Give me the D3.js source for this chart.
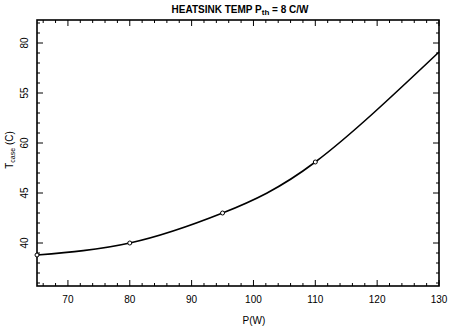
<!DOCTYPE html>
<html>
<head>
<meta charset="utf-8">
<script src="https://cdn.jsdelivr.net/npm/d3@7"></script>
<style>
  body { margin: 0; background: #fff; }
  svg { font-family: "Liberation Sans", Arial, sans-serif; }
</style>
</head>
<body>
<svg id="chart" width="451" height="332"></svg>
<script>
// measured points (markers)
const powerW = [65, 80, 95, 110];
const caseTemp = [38.8, 40.0, 43.0, 48.1];

// fitted curve
const curveP = [65, 80, 95, 110, 130];
const curveT = [38.8, 40.0, 43.0, 48.1, 59.1];

// tick values and labels
const xTicks = [70, 80, 90, 100, 110, 120, 130];
const yTicks = [40, 45, 50, 55, 60];
const yTickLabels = ["40", "45", "60", "55", "80"];

const width = 451, height = 332;
const mLeft = 37, mRight = 439, mTop = 20, mBottom = 286;

const svg = d3.select("#chart");

const x = d3.scaleLinear().domain([65, 130]).range([mLeft, mRight]);
const y = d3.scaleLinear().domain([35.7, 62.3]).range([mBottom, mTop]);

// frame
svg.append("rect")
  .attr("x", mLeft).attr("y", mTop)
  .attr("width", mRight - mLeft).attr("height", mBottom - mTop)
  .attr("fill", "none").attr("stroke", "#000").attr("stroke-width", 1.6);

// inward ticks: bottom and top
const xMinor = d3.range(66, 130, 2).filter(v => v % 10 !== 0);
const g = svg.append("g").attr("stroke", "#000").attr("stroke-width", 1);
xTicks.forEach(v => {
  g.append("line").attr("x1", x(v)).attr("x2", x(v)).attr("y1", mBottom).attr("y2", mBottom - 6);
  g.append("line").attr("x1", x(v)).attr("x2", x(v)).attr("y1", mTop).attr("y2", mTop + 6);
});
xMinor.forEach(v => {
  g.append("line").attr("x1", x(v)).attr("x2", x(v)).attr("y1", mBottom).attr("y2", mBottom - 3);
  g.append("line").attr("x1", x(v)).attr("x2", x(v)).attr("y1", mTop).attr("y2", mTop + 3);
});

// inward ticks: left and right
const yMinor = d3.range(36, 63, 1).filter(v => v % 5 !== 0);
yTicks.forEach(v => {
  g.append("line").attr("x1", mLeft).attr("x2", mLeft + 6).attr("y1", y(v)).attr("y2", y(v));
  g.append("line").attr("x1", mRight).attr("x2", mRight - 6).attr("y1", y(v)).attr("y2", y(v));
});
yMinor.forEach(v => {
  g.append("line").attr("x1", mLeft).attr("x2", mLeft + 3).attr("y1", y(v)).attr("y2", y(v));
  g.append("line").attr("x1", mRight).attr("x2", mRight - 3).attr("y1", y(v)).attr("y2", y(v));
});

// x tick labels
svg.append("g").selectAll("text")
  .data(xTicks).enter().append("text")
  .attr("x", d => x(d)).attr("y", 303)
  .attr("text-anchor", "middle")
  .attr("font-size", 10)
  .text(d => d);

// y tick labels (rotated)
svg.append("g").selectAll("text")
  .data(yTicks).enter().append("text")
  .attr("transform", d => `translate(28,${y(d)}) rotate(-90)`)
  .attr("text-anchor", "middle")
  .attr("font-size", 10)
  .text((d, i) => yTickLabels[i]);

// axis titles
svg.append("text")
  .attr("x", 254).attr("y", 324)
  .attr("text-anchor", "middle").attr("font-size", 10)
  .text("P(W)");

const yl = svg.append("text")
  .attr("transform", "translate(13,150) rotate(-90)")
  .attr("text-anchor", "middle").attr("font-size", 10);
yl.append("tspan").text("T");
yl.append("tspan").attr("font-size", 7).attr("dy", 2).text("case");
yl.append("tspan").attr("dy", -2).text(" (C)");

// title
const t = svg.append("text")
  .attr("x", 240).attr("y", 13)
  .attr("text-anchor", "middle").attr("font-size", 10).attr("font-weight", "bold");
t.append("tspan").text("HEATSINK TEMP  P");
t.append("tspan").attr("font-size", 8).attr("dy", 2).text("th");
t.append("tspan").attr("dy", -2).text(" = 8  C/W");

// curve
const line = d3.line()
  .x((d, i) => x(curveP[i]))
  .y(d => y(d))
  .curve(d3.curveNatural);

svg.append("path")
  .datum(curveT)
  .attr("d", line)
  .attr("fill", "none")
  .attr("stroke", "#000")
  .attr("stroke-width", 1.6);

// markers
svg.append("g").selectAll("circle")
  .data(caseTemp).enter().append("circle")
  .attr("cx", (d, i) => x(powerW[i]))
  .attr("cy", d => y(d))
  .attr("r", 2)
  .attr("fill", "#fff")
  .attr("stroke", "#000")
  .attr("stroke-width", 1);
</script>
</body>
</html>
